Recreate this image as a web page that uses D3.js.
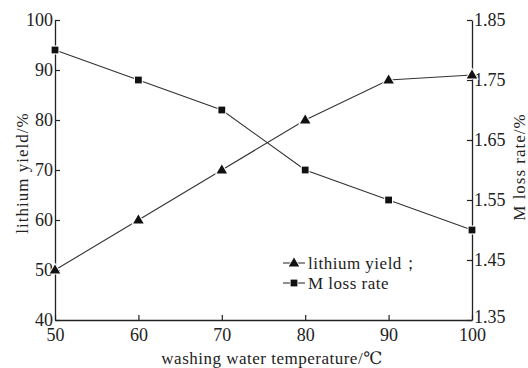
<!DOCTYPE html>
<html>
<head>
<meta charset="utf-8">
<script src="https://cdn.jsdelivr.net/npm/d3@7"></script>
<style>
  body { margin: 0; background: #fff; }
  svg text { font-family: "Liberation Serif", "DejaVu Serif", serif; fill: #222; }
</style>
</head>
<body>
<div id="chart"></div>
<script>
// data
const temperature = [50, 60, 70, 80, 90, 100];
const lithiumYield = [50, 60, 70, 80, 88, 89];
const lossRate = [1.80, 1.75, 1.70, 1.60, 1.55, 1.50];
const leftTicks = [40, 50, 60, 70, 80, 90, 100];
const rightTicks = [1.35, 1.45, 1.55, 1.65, 1.75, 1.85];

const W = 528, H = 368;
const margin = { top: 20, right: 56, bottom: 48, left: 55 };
const width = W - margin.left - margin.right;
const height = H - margin.top - margin.bottom;

const svg = d3.select("#chart").append("svg")
    .attr("width", W)
    .attr("height", H);

const g = svg.append("g")
    .attr("transform", "translate(" + margin.left + "," + margin.top + ")");

const x = d3.scaleLinear().domain([50, 100]).range([0, width]);
const yLeft = d3.scaleLinear().domain([40, 100]).range([height, 0]);
const yRight = d3.scaleLinear().domain([1.35, 1.85]).range([height, 0]);

// axes, ticks pointing inwards
function styleAxis(sel) {
    sel.select(".domain").attr("stroke", "#222").attr("stroke-width", 1.3);
    sel.selectAll(".tick line").attr("stroke", "#222").attr("stroke-width", 1.2);
    sel.selectAll("text").style("font-size", "18px").attr("fill", "#222");
}

g.append("g")
    .attr("transform", "translate(0," + height + ")")
    .call(d3.axisBottom(x).tickValues(temperature).tickSize(-5).tickSizeOuter(0).tickPadding(8))
    .call(styleAxis);

g.append("g")
    .call(d3.axisLeft(yLeft).tickValues(leftTicks).tickSize(-5).tickSizeOuter(0).tickPadding(2))
    .call(styleAxis);

const rightAxis = g.append("g")
    .attr("transform", "translate(" + width + ",0)")
    .call(d3.axisRight(yRight).tickValues(rightTicks).tickFormat(d3.format(".2f")).tickSize(-5).tickSizeOuter(0).tickPadding(2))
    .call(styleAxis);

// lift the bottom label a little so it clears "100"
rightAxis.selectAll(".tick text")
    .filter(d => d === 1.35)
    .attr("y", -3);

// lines
const lineYield = d3.line().x((d, i) => x(temperature[i])).y(d => yLeft(d));
const lineLoss = d3.line().x((d, i) => x(temperature[i])).y(d => yRight(d));

g.append("path")
    .datum(lithiumYield)
    .attr("d", lineYield)
    .attr("fill", "none")
    .attr("stroke", "#333")
    .attr("stroke-width", 1.1);

g.append("path")
    .datum(lossRate)
    .attr("d", lineLoss)
    .attr("fill", "none")
    .attr("stroke", "#333")
    .attr("stroke-width", 1.1);

const triangle = d3.symbol().type(d3.symbolTriangle).size(48);
const square = d3.symbol().type(d3.symbolSquare).size(46);

g.selectAll(".tri")
    .data(lithiumYield)
    .enter().append("path")
    .attr("class", "tri")
    .attr("d", triangle)
    .attr("transform", (d, i) => "translate(" + x(temperature[i]) + "," + (yLeft(d) + 0.5) + ")")
    .attr("fill", "#111")
    .attr("stroke", "#fff")
    .attr("stroke-width", 2)
    .style("paint-order", "stroke");

g.selectAll(".sq")
    .data(lossRate)
    .enter().append("path")
    .attr("class", "sq")
    .attr("d", square)
    .attr("transform", (d, i) => "translate(" + x(temperature[i]) + "," + yRight(d) + ")")
    .attr("fill", "#111")
    .attr("stroke", "#fff")
    .attr("stroke-width", 2)
    .style("paint-order", "stroke");

// axis titles
svg.append("text")
    .attr("x", 272)
    .attr("y", 364)
    .style("text-anchor", "middle")
    .style("font-size", "17px")
    .style("letter-spacing", "0.5px")
    .text("washing water temperature/℃");

svg.append("text")
    .attr("transform", "translate(28,173) rotate(-90)")
    .style("text-anchor", "middle")
    .style("font-size", "17px")
    .style("letter-spacing", "1px")
    .text("lithium yield/%");

svg.append("text")
    .attr("transform", "translate(525,167) rotate(-90)")
    .style("text-anchor", "middle")
    .style("font-size", "17px")
    .style("letter-spacing", "1px")
    .text("M loss rate/%");

// legend
const legendItems = [
    { name: "lithium yield；", symbol: triangle, dy: 0.5 },
    { name: "M loss rate", symbol: square, dy: 0 }
];

const legend = g.selectAll(".legend")
    .data(legendItems)
    .enter().append("g")
    .attr("class", "legend")
    .attr("transform", (d, i) => "translate(228," + (243 + i * 20) + ")");

legend.append("line")
    .attr("x1", 0).attr("x2", 22)
    .attr("stroke", "#333").attr("stroke-width", 1.1);

legend.append("path")
    .attr("d", d => d.symbol())
    .attr("transform", d => "translate(11," + d.dy + ")")
    .attr("fill", "#111")
    .attr("stroke", "#fff")
    .attr("stroke-width", 1.5)
    .style("paint-order", "stroke");

legend.append("text")
    .attr("x", 25)
    .attr("dy", "0.33em")
    .style("font-size", "17px")
    .style("letter-spacing", "0.5px")
    .text(d => d.name);
</script>
</body>
</html>
